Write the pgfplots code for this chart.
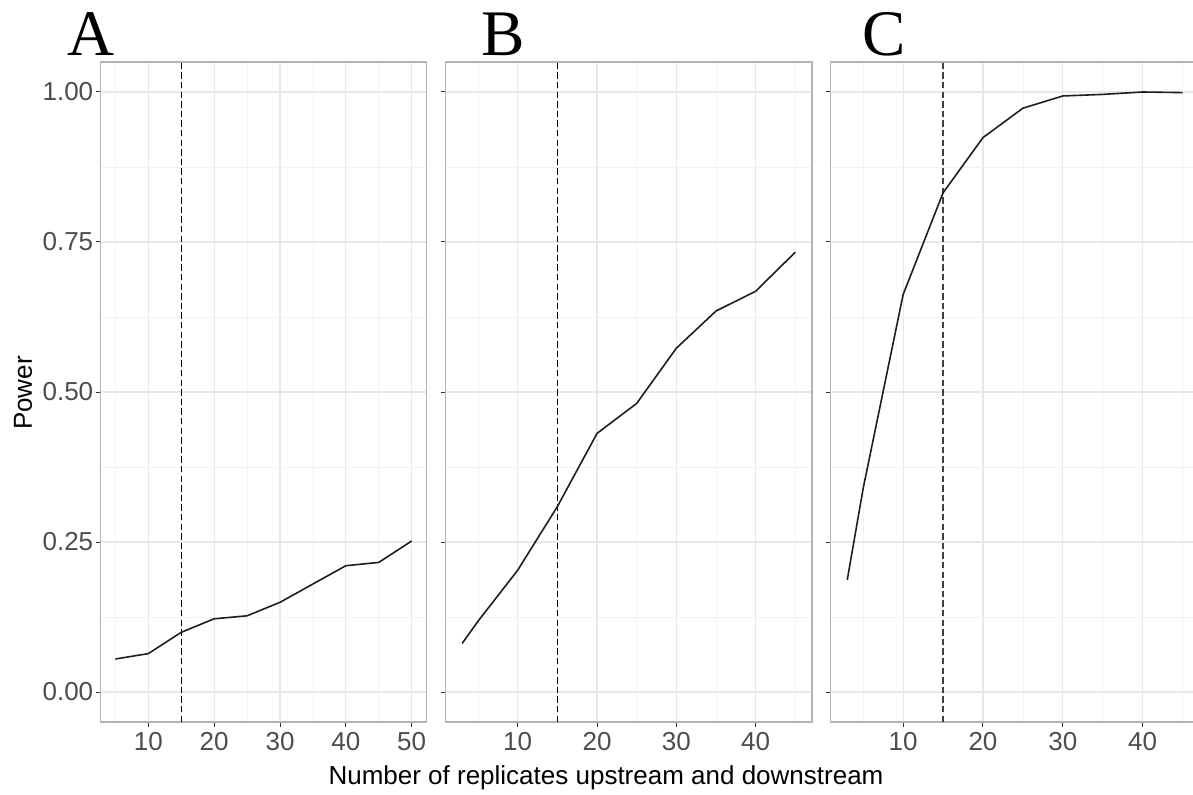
\documentclass[border=0pt]{standalone}
\usepackage{fontspec}
\setmainfont{Liberation Sans}
\newfontfamily\letterfont{Liberation Serif}
\usepackage{pgfplots}
\usepackage{pgfplotstable}
\pgfplotsset{compat=1.18}
\definecolor{gridmaj}{RGB}{232,232,232}
\definecolor{gridmin}{RGB}{242,242,242}
\definecolor{border}{RGB}{179,179,179}
\definecolor{ticklab}{RGB}{77,77,77}
\definecolor{tickmk}{RGB}{51,51,51}
\definecolor{dataline}{RGB}{30,30,30}

\pgfplotstableread{
x y
5 0.055
10 0.064
15 0.0995
20 0.122
25 0.127
30 0.1495
35 0.180
40 0.2105
45 0.216
50 0.2517
}\dataA
\pgfplotstableread{
x y
3 0.081
5 0.118
10 0.203
15 0.309
20 0.431
25 0.481
30 0.573
35 0.635
40 0.668
45 0.733
}\dataB
\pgfplotstableread{
x y
3 0.187
5 0.340
10 0.6625
15 0.832
20 0.924
25 0.973
30 0.9934
35 0.996
40 1.000
45 0.999
}\dataC

\pgfplotsset{panel/.style={
  scale only axis, height=330pt,
  ymin=-0.05, ymax=1.05,
  ytick={0,0.25,0.5,0.75,1},
  minor ytick={0.125,0.375,0.625,0.875},
  minor xtick={5,15,25,35,45},
  grid=both,
  major grid style={draw=gridmaj, line width=0.55pt},
  minor grid style={draw=gridmin, line width=0.35pt},
  axis line style={draw=border, line width=0.8pt},
  tick align=outside, xtick pos=bottom, ytick pos=left,
  major tick length=2.5pt, minor tick length=0pt,
  tick style={draw=tickmk, line width=0.5pt},
  tick label style={font=\fontsize{13}{15}\selectfont, text=ticklab},
  xticklabel style={inner sep=2.3pt},
  yticklabel style={inner sep=1pt},
  /pgf/number format/assume math mode=true,
  anchor=south west,
}}

\begin{document}
\begin{tikzpicture}
\useasboundingbox (0,0) rectangle (596.5pt,397pt);
\clip (0,0) rectangle (596.5pt,397pt);

% Panel A
\begin{axis}[panel, at={(50.3pt,36pt)}, width=162.95pt,
  xmin=2.75, xmax=52.25, xtick={10,20,30,40,50},
  yticklabel style={/pgf/number format/.cd, fixed, fixed zerofill, precision=2}]
\addplot[black, line width=0.6pt, dash pattern=on 3.2pt off 1.6pt] coordinates {(15,-0.05) (15,1.05)};
\addplot[dataline, line width=0.8pt] table[x=x,y=y] {\dataA};
\end{axis}

% Panel B
\begin{axis}[panel, at={(222.75pt,36pt)}, width=183.25pt,
  xmin=0.9, xmax=47.1, xtick={10,20,30,40}, yticklabels={}]
\addplot[black, line width=0.6pt, dash pattern=on 3.2pt off 1.6pt] coordinates {(15,-0.05) (15,1.05)};
\addplot[dataline, line width=0.8pt] table[x=x,y=y] {\dataB};
\end{axis}

% Panel C
\begin{axis}[panel, at={(415.25pt,36pt)}, width=184.4pt,
  xmin=0.9, xmax=47.1, xtick={10,20,30,40}, yticklabels={}]
\addplot[black!75, line width=0.6pt, dash pattern=on 3.2pt off 1.6pt] coordinates {(15,-0.05) (15,1.05)};
\addplot[dataline, line width=0.8pt] table[x=x,y=y] {\dataC};
\end{axis}

% Panel letters
\node[anchor=base west, inner sep=0pt, font=\letterfont\fontsize{32.5}{36}\selectfont] at (33.5pt,369pt) {A};
\node[anchor=base west, inner sep=0pt, font=\letterfont\fontsize{32.5}{36}\selectfont] at (240.5pt,369pt) {B};
\node[anchor=base west, inner sep=0pt, font=\letterfont\fontsize{32.5}{36}\selectfont] at (431pt,369pt) {C};

% Axis titles
\node[rotate=90, anchor=center, inner sep=0pt, font=\fontsize{13}{15}\selectfont] at (11.5pt,200.5pt) {Power};
\node[anchor=base, inner sep=0pt, font=\fontsize{13}{15}\selectfont] at (303pt,5pt) {Number of replicates upstream and downstream};
\end{tikzpicture}
\end{document}
